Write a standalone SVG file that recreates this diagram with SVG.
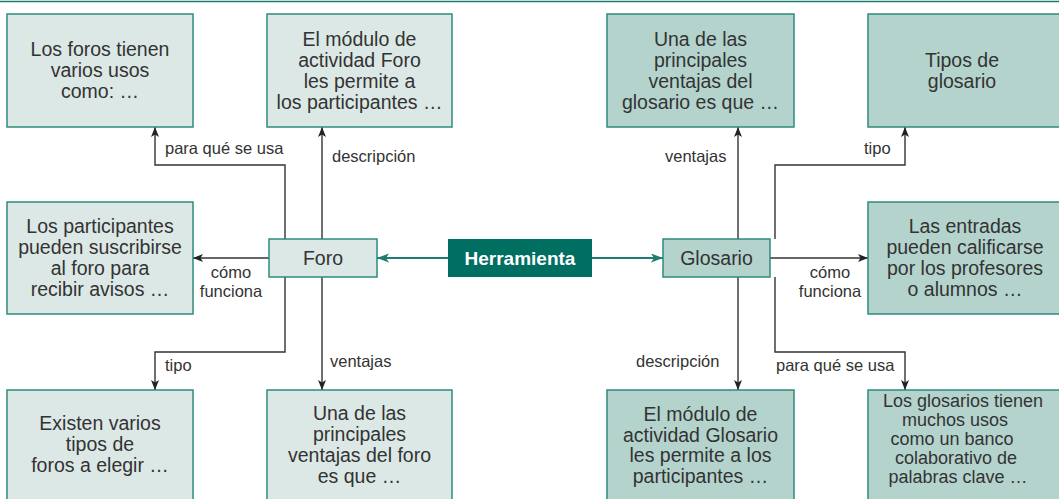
<svg xmlns="http://www.w3.org/2000/svg" width="1059" height="499" viewBox="0 0 1059 499">
<style>
  .lt { fill: #dce8e5; stroke: #2e8b7d; stroke-width: 1.5; }
  .dk { fill: #b4d3cd; stroke: #2e8b7d; stroke-width: 1.5; }
  .hub { fill: #006e60; }
  .t { font-family: "Liberation Sans", Arial, sans-serif; font-size: 19.5px; fill: #333; text-anchor: middle; }
  .ts { font-size: 18px; }
  .hubt { font-family: "Liberation Sans", Arial, sans-serif; font-size: 19px; font-weight: bold; fill: #fff; text-anchor: middle; }
  .lbl { font-family: "Liberation Sans", Arial, sans-serif; font-size: 16.5px; fill: #333; }
  .c { fill: none; stroke: #333; stroke-width: 1.4; marker-end: url(#ah); }
  .ct { fill: none; stroke: #1d7d6e; stroke-width: 2.2; marker-end: url(#aht); }
</style>
<defs>
  <marker id="ah" markerUnits="userSpaceOnUse" markerWidth="12" markerHeight="10" refX="10" refY="4" orient="auto">
    <path d="M0,0 L10,4 L0,8 L2.5,4 z" fill="#222"/>
  </marker>
  <marker id="aht" markerUnits="userSpaceOnUse" markerWidth="14" markerHeight="10" refX="12" refY="4.5" orient="auto">
    <path d="M0,0 L12,4.5 L0,9 L3,4.5 z" fill="#1d7d6e"/>
  </marker>
</defs>
<rect width="1059" height="499" fill="#fff"/>
<line x1="0" y1="1.5" x2="1059" y2="1.5" stroke="#1d7d6e" stroke-width="1.5"/>

<g id="connectors">
  <path class="ct" d="M448,258 H377"/>
  <path class="ct" d="M592,258 H663"/>
  <path class="c" d="M285,239 V165 H155 V127"/>
  <path class="c" d="M322,239 V127"/>
  <path class="c" d="M269,258 H193"/>
  <path class="c" d="M285,277 V352 H155 V390"/>
  <path class="c" d="M322,277 V390"/>
  <path class="c" d="M738,239 V127"/>
  <path class="c" d="M775,239 V165 H905 V127"/>
  <path class="c" d="M770,258 H868"/>
  <path class="c" d="M738,277 V390"/>
  <path class="c" d="M775,277 V352 H905 V390"/>
  <text class="lbl" x="165" y="154">para qué se usa</text>
  <text class="lbl" x="332" y="162">descripción</text>
  <text class="lbl" x="231" y="278" text-anchor="middle">cómo</text>
  <text class="lbl" x="231" y="297" text-anchor="middle">funciona</text>
  <text class="lbl" x="165" y="371">tipo</text>
  <text class="lbl" x="330" y="367">ventajas</text>
  <text class="lbl" x="665" y="162">ventajas</text>
  <text class="lbl" x="864" y="154">tipo</text>
  <text class="lbl" x="830" y="278" text-anchor="middle">cómo</text>
  <text class="lbl" x="830" y="297" text-anchor="middle">funciona</text>
  <text class="lbl" x="636" y="367">descripción</text>
  <text class="lbl" x="776" y="371">para qué se usa</text>
</g>

<g id="herramienta">
  <rect class="hub" x="448" y="239" width="144" height="38"/>
  <text class="hubt" x="520" y="265">Herramienta</text>
</g>
<g id="foro">
  <rect class="lt" x="269" y="239" width="108" height="38"/>
  <text class="t" x="323" y="265">Foro</text>
</g>
<g id="glosario">
  <rect class="dk" x="663" y="239" width="107" height="38"/>
  <text class="t" x="716.5" y="265">Glosario</text>
</g>

<g id="foro-usos">
  <rect class="lt" x="7" y="14" width="186" height="113"/>
  <text class="t" x="100" y="56">Los foros tienen</text>
  <text class="t" x="100" y="77">varios usos</text>
  <text class="t" x="100" y="98">como: …</text>
</g>
<g id="foro-descripcion">
  <rect class="lt" x="267" y="14" width="185" height="113"/>
  <text class="t" x="359.5" y="45.5">El módulo de</text>
  <text class="t" x="359.5" y="66.5">actividad Foro</text>
  <text class="t" x="359.5" y="87.5">les permite a</text>
  <text class="t" x="359.5" y="108.5">los participantes …</text>
</g>
<g id="foro-funciona">
  <rect class="lt" x="7" y="202" width="186" height="112"/>
  <text class="t" x="100" y="233">Los participantes</text>
  <text class="t" x="100" y="254">pueden suscribirse</text>
  <text class="t" x="100" y="275">al foro para</text>
  <text class="t" x="100" y="296">recibir avisos …</text>
</g>
<g id="foro-tipo">
  <rect class="lt" x="7" y="390" width="186" height="120"/>
  <text class="t" x="100" y="430">Existen varios</text>
  <text class="t" x="100" y="451">tipos de</text>
  <text class="t" x="100" y="472">foros a elegir …</text>
</g>
<g id="foro-ventajas">
  <rect class="lt" x="267" y="390" width="185" height="120"/>
  <text class="t" x="359.5" y="420">Una de las</text>
  <text class="t" x="359.5" y="441">principales</text>
  <text class="t" x="359.5" y="462">ventajas del foro</text>
  <text class="t" x="359.5" y="483">es que …</text>
</g>

<g id="glosario-ventajas">
  <rect class="dk" x="607" y="14" width="187" height="113"/>
  <text class="t" x="700.5" y="45.5">Una de las</text>
  <text class="t" x="700.5" y="66.5">principales</text>
  <text class="t" x="700.5" y="87.5">ventajas del</text>
  <text class="t" x="700.5" y="108.5">glosario es que …</text>
</g>
<g id="glosario-tipo">
  <rect class="dk" x="868" y="14" width="200" height="113"/>
  <text class="t" x="962" y="66.5">Tipos de</text>
  <text class="t" x="962" y="87.5">glosario</text>
</g>
<g id="glosario-funciona">
  <rect class="dk" x="868" y="202" width="200" height="112"/>
  <text class="t" x="965" y="233">Las entradas</text>
  <text class="t" x="965" y="254">pueden calificarse</text>
  <text class="t" x="965" y="275">por los profesores</text>
  <text class="t" x="965" y="296">o alumnos …</text>
</g>
<g id="glosario-descripcion">
  <rect class="dk" x="607" y="390" width="187" height="120"/>
  <text class="t" x="700.5" y="421">El módulo de</text>
  <text class="t" x="700.5" y="441.5">actividad Glosario</text>
  <text class="t" x="700.5" y="462">les permite a los</text>
  <text class="t" x="700.5" y="482.5">participantes …</text>
</g>
<g id="glosario-usos">
  <rect class="dk" x="868" y="390" width="200" height="120"/>
  <text class="t ts" x="963" y="407">Los glosarios tienen</text>
  <text class="t ts" x="955" y="426">muchos usos</text>
  <text class="t ts" x="952" y="445">como un banco</text>
  <text class="t ts" x="956" y="464">colaborativo de</text>
  <text class="t ts" x="958" y="483">palabras clave …</text>
</g>
</svg>
